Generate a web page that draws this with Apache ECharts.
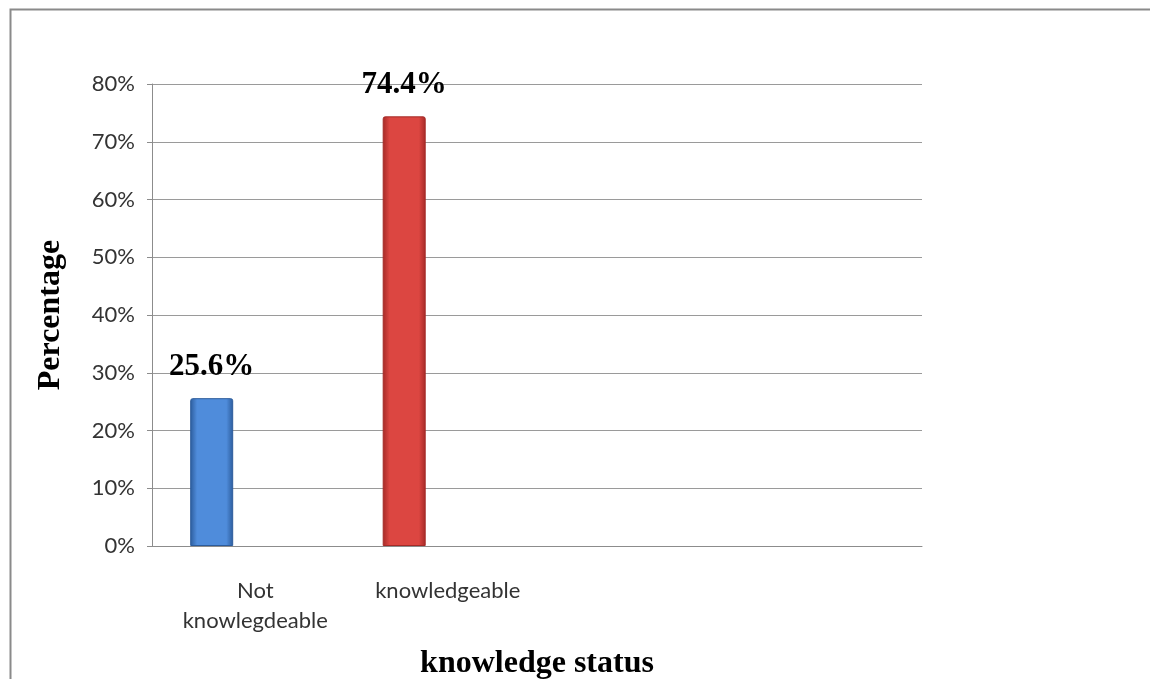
<!DOCTYPE html>
<html>
<head>
<meta charset="utf-8">
<title>knowledge status</title>
<script src="https://cdn.jsdelivr.net/npm/echarts@6/dist/echarts.min.js"></script>
<style>
  html, body { margin: 0; padding: 0; background: #ffffff; }
  #chart { width: 1150px; height: 679px; }
</style>
</head>
<body>
<div id="chart"></div>
<script>
// Knowledge status of respondents, in percent
const categories = ['Not\nknowlegdeable', 'knowledgeable', '', ''];
const percentages = [25.6, 74.4, null, null];
const yTicks = [0, 10, 20, 30, 40, 50, 60, 70, 80];

const barStyles = [
  { edge: '#2c5c9c', mid: '#4f8cdb' },
  { edge: '#a52a27', mid: '#dc4641' }
];

function barGradient(s) {
  return new echarts.graphic.LinearGradient(0, 0, 1, 0, [
    { offset: 0, color: s.edge },
    { offset: 0.16, color: s.mid },
    { offset: 0.84, color: s.mid },
    { offset: 1, color: s.edge }
  ]);
}

const chart = echarts.init(document.getElementById('chart'), null, { renderer: 'canvas' });

const option = {
  backgroundColor: '#ffffff',
  animation: false,
  graphic: [{
    type: 'rect',
    left: 8, top: 7,
    shape: { width: 1300, height: 800 },
    style: { fill: 'none', stroke: '#8a8a8a', lineWidth: 2 },
    silent: true
  }],
  grid: { left: 152, top: 84, right: 228, bottom: 133, outerBoundsMode: 'none' },
  xAxis: {
    type: 'category',
    data: categories,
    name: 'knowledge status',
    nameLocation: 'middle',
    nameGap: 102,
    nameTextStyle: {
      fontFamily: 'Liberation Serif', fontWeight: 'bold', fontSize: 32, color: '#000000'
    },
    axisLine: { lineStyle: { color: '#8c8c8c', width: 1 } },
    axisTick: { show: false },
    axisLabel: {
      margin: 30,
      fontFamily: 'Lato', fontSize: 22, color: '#333333', lineHeight: 30,
      padding: [0, 0, 0, 14],
      interval: 0
    }
  },
  yAxis: {
    type: 'value',
    min: yTicks[0],
    max: yTicks[yTicks.length - 1],
    interval: 10,
    name: 'Percentage',
    nameLocation: 'middle',
    nameGap: 85,
    nameRotate: 90,
    nameTextStyle: {
      fontFamily: 'Liberation Serif', fontWeight: 'bold', fontSize: 32, color: '#000000'
    },
    axisLine: { show: true, lineStyle: { color: '#8c8c8c', width: 1 } },
    axisTick: { show: true, length: 5, lineStyle: { color: '#8c8c8c' } },
    splitLine: { show: true, lineStyle: { color: '#9a9a9a', width: 1 } },
    axisLabel: {
      margin: 17,
      fontFamily: 'Lato', fontSize: 22, color: '#333333',
      formatter: v => v + '%'
    }
  },
  series: [
    {
      name: 'Percentage',
      type: 'bar',
      barWidth: 43,
      barGap: '70%',
      data: percentages.map((v, i) => (v === null ? null : {
        value: v,
        itemStyle: {
          color: barGradient(barStyles[i]),
          borderColor: barStyles[i].edge,
          borderWidth: 1,
          borderRadius: [2, 2, 0, 0]
        }
      })),
      label: {
        show: true,
        position: 'top',
        distance: 16,
        fontFamily: 'Liberation Serif',
        fontWeight: 'bold',
        fontSize: 31,
        color: '#000000',
        formatter: p => p.value.toFixed(1) + '%'
      }
    },
    {
      name: 'slot',
      type: 'bar',
      barWidth: 43,
      barGap: '70%',
      data: [],
      silent: true
    }
  ]
};

chart.setOption(option);
</script>
</body>
</html>
